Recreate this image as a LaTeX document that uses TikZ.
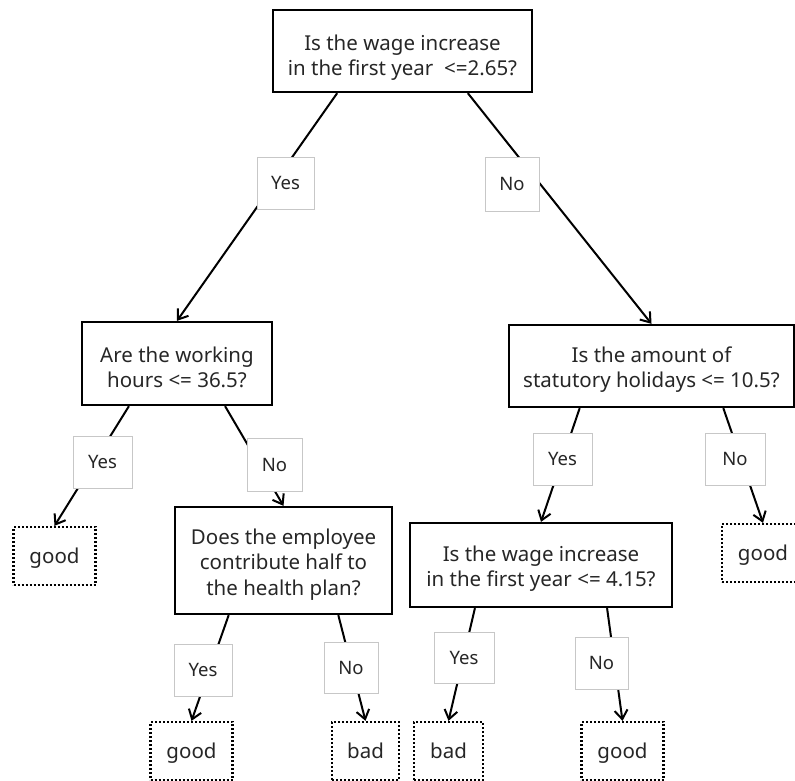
\documentclass[tikz,border=0pt]{standalone}
\usepackage{fontspec}
\setmainfont{Noto Sans}
\usetikzlibrary{arrows.meta,calc}
\newcommand\mygap[1]{\rule{0pt}{#1}}
\begin{document}
\begin{tikzpicture}[x=1pt,y=-1pt,
 q/.style={draw, line width=2.3pt, align=center, inner sep=0pt, text=black!85, font=\fontsize{20.5}{25.5}\selectfont},
 lab/.style={draw=black!22, line width=0.9pt, fill=white, inner sep=0pt, minimum width=57pt, minimum height=52pt, text=black!85, font=\fontsize{18.5}{20}\selectfont},
 leaf/.style={draw, line width=2.3pt, dash pattern=on 2pt off 2pt, inner sep=0pt, minimum width=82pt, minimum height=58pt, text height=19pt, text depth=5pt, text=black!85, font=\fontsize{20.5}{22}\selectfont},
 edge/.style={line width=2pt, -{Straight Barb[length=9pt,width=13pt]}}
]
\useasboundingbox (0,0) rectangle (795,780);
\clip (0,0) rectangle (795,780);
% decision boxes
\node[q, minimum width=259pt, minimum height=82pt] (root) at (402.5,51) {\mygap{29pt}Is the wage increase\\in the first year\ \ <=2.65?};
\node[q, minimum width=190pt, minimum height=83pt] (work) at (177,363.5) {\mygap{23pt}Are the working\\hours <= 36.5?};
\node[q, minimum width=285pt, minimum height=82pt] (hol) at (651.5,366) {\mygap{23pt}Is the amount of\\statutory holidays <= 10.5?};
\node[q, minimum width=217pt, minimum height=107pt] (emp) at (283.5,560.5) {\mygap{23pt}Does the employee\\contribute half to\\the health plan?};
\node[q, minimum width=262pt, minimum height=84pt] (wage) at (541,565) {\mygap{23pt}Is the wage increase\\in the first year <= 4.15?};
% leaves
\node[leaf] (g1) at (54.5,556) {good};
\node[leaf] (g2) at (191.5,751) {good};
\node[leaf, minimum width=67pt] (b1) at (365.5,751) {bad};
\node[leaf] (g3) at (763,553) {good};
\node[leaf, minimum width=69pt] (b2) at (448.5,751) {bad};
\node[leaf] (g4) at (622.5,751) {good};
% edges
\draw[edge] ($(root.south west)!0.25!(root.south east)$) -- (work.north);
\draw[edge] ($(root.south west)!0.75!(root.south east)$) -- (hol.north);
\draw[edge] ($(work.south west)!0.25!(work.south east)$) -- (g1.north);
\draw[edge] ($(work.south west)!0.75!(work.south east)$) -- (emp.north);
\draw[edge] ($(emp.south west)!0.25!(emp.south east)$) -- (g2.north);
\draw[edge] ($(emp.south west)!0.75!(emp.south east)$) -- (b1.north);
\draw[edge] ($(hol.south west)!0.25!(hol.south east)$) -- (wage.north);
\draw[edge] ($(hol.south west)!0.75!(hol.south east)$) -- (g3.north);
\draw[edge] ($(wage.south west)!0.25!(wage.south east)$) -- (b2.north);
\draw[edge] ($(wage.south west)!0.75!(wage.south east)$) -- (g4.north);
% labels
\node[lab] (y1) at (285.5,183) {Yes};
\node[lab, minimum width=54pt, minimum height=54pt] (n1) at (512,184) {No};
\node[lab, minimum width=59pt] (y2) at (102.5,462) {Yes};
\node[lab, minimum width=55pt, minimum height=53pt] (n2) at (274.5,464.5) {No};
\node[lab, minimum width=58pt] (y3) at (203,670) {Yes};
\node[lab, minimum width=54pt, minimum height=51pt] (n3) at (351,667.5) {No};
\node[lab, minimum width=59pt] (y4) at (562.5,459) {Yes};
\node[lab, minimum width=60pt] (n4) at (735,459) {No};
\node[lab, minimum width=60pt, minimum height=51pt] (y5) at (464,657.5) {Yes};
\node[lab, minimum width=53pt] (n5) at (601.5,663) {No};
\end{tikzpicture}
\end{document}
